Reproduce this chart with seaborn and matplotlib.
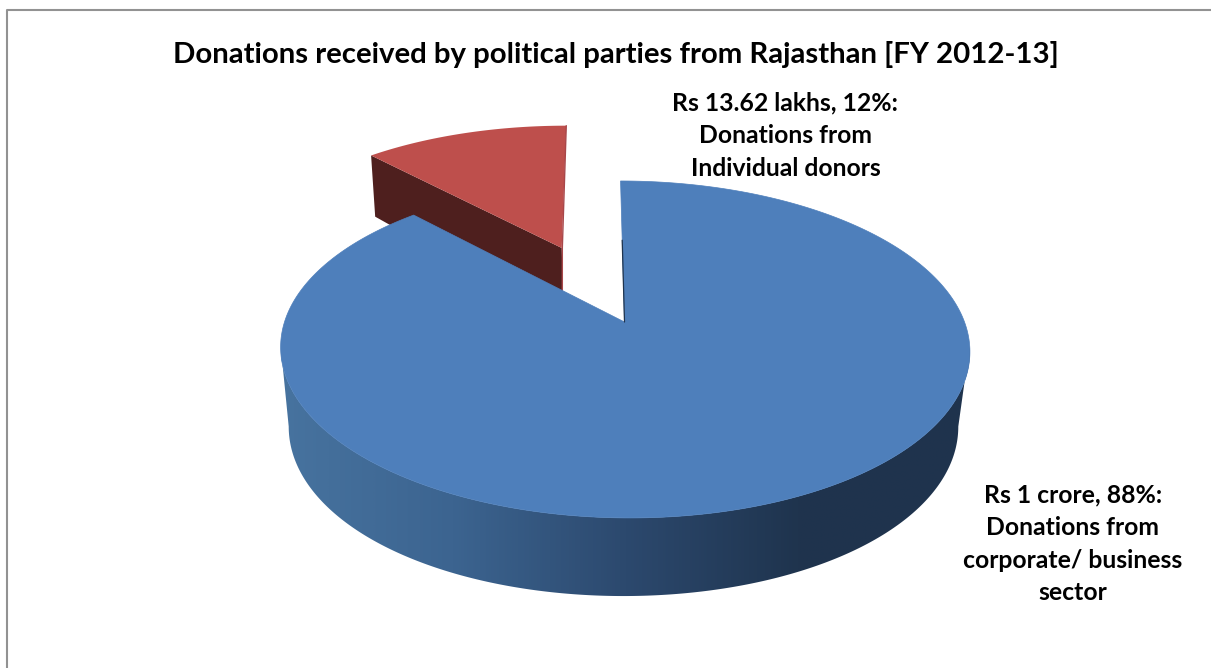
# -*- coding: utf-8 -*-
import numpy as np
import matplotlib
matplotlib.use('Agg')
import matplotlib.pyplot as plt
import seaborn as sns
from matplotlib.patches import Polygon

TITLE = 'Donations received by political parties from Rajasthan [FY 2012-13]'
SEGMENTS = ['corporate', 'individual']
AMOUNTS_LAKHS = [100.0, 13.62]
LABELS = [
    'Rs 1 crore, 88%:\nDonations from\ncorporate/ business\nsector',
    'Rs 13.62 lakhs, 12%:\nDonations from\nIndividual donors',
]

WIDTH, HEIGHT = 1211, 668
APEX_X, APEX_Y = 624.5, 322.0
TILT = 0.163
EXPLODE = 0.524
TOP_BLUE = '#4E7FBB'
TOP_RED = '#BE4F4C'
WALL_RED = '#4E1F1E'
SIDE_STOPS = ['#47739F', '#3C6490', '#2C496E', '#1F344E', '#1F334D']


def top_face(u, v):
    w = 1 + TILT * v
    y = APEX_Y - 164.0 * v / w
    x = APEX_X + 340.0 * u / w + (y - APEX_Y) * 0.028
    return x, y


def bottom_face(u, v):
    x = 623.5 + 331.5 * u / (1 + 0.14 * v)
    y = 402.0 - 172.7 * v / (1 + 0.11 * v)
    return x, y


def rim(start, stop, offset=(0.0, 0.0), n=240):
    # angles are clockwise from the top of the disc
    angles = np.linspace(start, stop, n)
    return offset[0] + np.sin(angles), offset[1] + np.cos(angles)


def draw_blue(ax, stop):
    # front wall, horizontal gradient clipped to the outline of the disc side
    side = np.array(sns.blend_palette(SIDE_STOPS, 512))[None, :, :]
    u_f, v_f = rim(np.pi / 2 + 0.14, 3 * np.pi / 2 - 0.14, n=300)
    fx, fy = top_face(u_f, v_f)
    bx, by = bottom_face(u_f, v_f)
    outline = np.column_stack([np.r_[fx, bx[::-1]], np.r_[fy, by[::-1]]])
    wall = ax.imshow(side, extent=(281, 970, 600, 340), aspect='auto', interpolation='bilinear', zorder=3)
    wall.set_clip_path(Polygon(outline, closed=True, transform=ax.transData))

    u, v = rim(0.0, stop, n=420)
    tx, ty = top_face(u, v)
    apex = top_face(0.0, 0.0)
    ax.fill(np.r_[apex[0], tx], np.r_[apex[1], ty], color=TOP_BLUE, lw=0.5, zorder=4)
    ex, ey = top_face(0.0, 1.0)
    ax.plot([ex + (apex[0] - ex) * 0.42, apex[0]], [ey + (apex[1] - ey) * 0.42, apex[1]],
            color='#1F344E', lw=0.9, zorder=5)


def draw_red(ax, start, stop):
    mid = (start + stop) / 2
    offset = (EXPLODE * np.sin(mid), EXPLODE * np.cos(mid))
    u, v = rim(start, stop, offset)
    tx, ty = top_face(u, v)
    apex_t = top_face(*offset)
    apex_b = bottom_face(*offset)
    left_t = top_face(u[0], v[0])
    left_b = bottom_face(u[0], v[0])
    ax.fill([left_t[0], apex_t[0], apex_b[0], left_b[0]], [left_t[1], apex_t[1], apex_b[1], left_b[1]],
            color=WALL_RED, lw=0, zorder=1)
    ax.fill(np.r_[apex_t[0], tx], np.r_[apex_t[1], ty], color=TOP_RED, lw=0, zorder=2)
    ax.plot([tx[-1], apex_t[0] + 0.6, apex_t[0] + 0.6], [ty[-1], apex_t[1], apex_b[1]],
            color='#A8474A', lw=1.0, zorder=2)


def main():
    sns.set_theme(style='white')
    plt.rcParams['font.family'] = ['Lato', 'DejaVu Sans']
    fig = plt.figure(figsize=(WIDTH / 100, HEIGHT / 100), dpi=100)
    ax = fig.add_axes([0, 0, 1, 1])

    # chart area border, only the left and top edges are inside the crop
    ax.plot([7, 7, WIDTH + 5], [HEIGHT + 5, 10, 10], color='#929292', lw=1.5, zorder=0)

    shares = np.array(AMOUNTS_LAKHS) / sum(AMOUNTS_LAKHS)
    sweep = 2 * np.pi * shares[0]
    draw_red(ax, sweep, 2 * np.pi)
    draw_blue(ax, sweep)

    ax.set_xlim(0, WIDTH)
    ax.set_ylim(HEIGHT, 0)
    ax.axis('off')

    ax.text(616, 54, TITLE, ha='center', va='center', fontsize=21.2, fontweight='bold', color='black')
    ax.text(1073, 544, LABELS[0], ha='center', va='center', fontsize=17.8, fontweight='bold',
            color='black', linespacing=1.5)
    ax.text(785.5, 135.5, LABELS[1], ha='center', va='center', fontsize=17.8, fontweight='bold',
            color='black', linespacing=1.5)

    fig.savefig('out.png', dpi=100)
    plt.close(fig)


if __name__ == '__main__':
    main()
